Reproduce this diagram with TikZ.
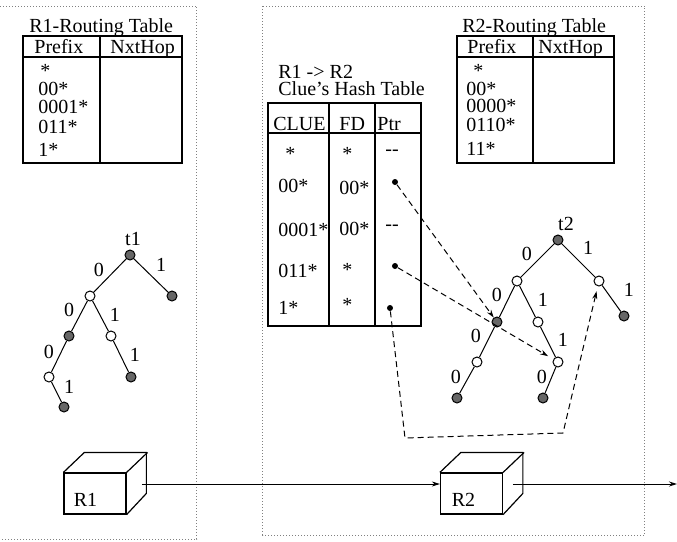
\documentclass[tikz,border=0pt]{standalone}
\usepackage{fontspec}
\setmainfont{Liberation Serif}
\usetikzlibrary{arrows.meta,calc}

\begin{document}
\begin{tikzpicture}[x=0.5pt, y=-0.5pt,
    every node/.style={font=\fontsize{10}{12}\selectfont, inner sep=0pt},
    frame/.style={gray, densely dotted, line width=0.5pt},
    tbl/.style={line width=0.6pt},
    entry/.style={anchor=base west},
    full/.style={circle, draw, fill=black!60, minimum size=5pt, line width=0.5pt},
    empty/.style={circle, draw, fill=white, minimum size=5pt, line width=0.5pt},
    edgeline/.style={line width=0.5pt},
    ptr/.style={circle, fill=black, minimum size=3pt},
    cube/.style={draw, minimum width=31pt, minimum height=20.5pt, line width=0.6pt},
    arr/.style={-{Stealth[length=4pt, width=2.5pt]}, line width=0.5pt},
    darr/.style={-{Stealth[length=4pt, width=2.5pt]}, dash pattern=on 3pt off 2pt, line width=0.5pt},
]
\useasboundingbox (0,0) rectangle (677,542);

% Router domains
\draw[frame] (0,6) -- (197,6) -- (197,539) -- (0,539);
\draw[frame] (263,6) rectangle (645,535);

% R1 routing table
\node[entry] (r1title) at (29,32) {R1-Routing Table};
\draw[tbl] (23,36) rectangle (182,163);
\draw[tbl] (23,57) -- (182,57);
\draw[tbl] (100,36) -- (100,163);
\node[entry] (r1pfx) at (34,53) {Prefix};
\node[entry] (r1hop) at (110,53) {NxtHop};
\node[entry] (r1e1) at (40,77) {*};
\node[entry] (r1e2) at (38,95) {00*};
\node[entry] (r1e3) at (38,113) {0001*};
\node[entry] (r1e4) at (38,133) {011*};
\node[entry] (r1e5) at (38,156) {1*};

% R2 routing table
\node[entry] (r2title) at (462,32) {R2-Routing Table};
\draw[tbl] (457,36) rectangle (614,163);
\draw[tbl] (457,57) -- (614,57);
\draw[tbl] (533,36) -- (533,163);
\node[entry] (r2pfx) at (467,53) {Prefix};
\node[entry] (r2hop) at (538,53) {NxtHop};
\node[entry] (r2e1) at (473,77) {*};
\node[entry] (r2e2) at (466,95) {00*};
\node[entry] (r2e3) at (466,112) {0000*};
\node[entry] (r2e4) at (466,131) {0110*};
\node[entry] (r2e5) at (466,155) {11*};

% Clue hash table
\node[entry] (hlink) at (278,78) {R1 -> R2};
\node[entry] (htitle) at (278,95) {Clue's Hash Table};
\draw[tbl] (268,103) rectangle (421,326);
\draw[tbl] (268,133) -- (421,133);
\draw[tbl] (329,103) -- (329,326);
\draw[tbl] (375,103) -- (375,326);
\node[entry] (hclue) at (273,130) {CLUE};
\node[entry] (hfd) at (339,130) {FD};
\node[entry] (hptr) at (377,130) {Ptr};
\node[entry] (c1) at (285,160) {*};
\node[entry] (f1) at (342,160) {*};
\node[entry] (p1) at (385,155) {-{}-};
\node[entry] (c2) at (278,192) {00*};
\node[entry] (f2) at (339,194) {00*};
\node[ptr] (ptra) at (395,182) {};
\node[entry] (c3) at (278,236) {0001*};
\node[entry] (f3) at (339,235) {00*};
\node[entry] (p3) at (385,230) {-{}-};
\node[entry] (c4) at (278,277) {011*};
\node[entry] (f4) at (342,276) {*};
\node[ptr] (ptrb) at (395,266) {};
\node[entry] (c5) at (278,314) {1*};
\node[entry] (f5) at (342,311) {*};
\node[ptr] (ptrc) at (390,308) {};

% Trie t1
\node[full] (t1r) at (130,255) {};
\node[empty] (t1a) at (90,296) {};
\node[full] (t1b) at (172,296) {};
\node[full] (t1c) at (69,336) {};
\node[empty] (t1d) at (111,336) {};
\node[empty] (t1e) at (49,377) {};
\node[full] (t1f) at (131,377) {};
\node[full] (t1g) at (64,407) {};
\draw[edgeline] (t1r) -- (t1a);
\draw[edgeline] (t1r) -- (t1b);
\draw[edgeline] (t1a) -- (t1c);
\draw[edgeline] (t1a) -- (t1d);
\draw[edgeline] (t1c) -- (t1e);
\draw[edgeline] (t1d) -- (t1f);
\draw[edgeline] (t1e) -- (t1g);
\node (t1name) at (133,239) {t1};
\node (t1l1) at (99,270) {0};
\node (t1l2) at (161,265) {1};
\node (t1l3) at (69,310) {0};
\node (t1l4) at (115,315) {1};
\node (t1l5) at (49,352) {0};
\node (t1l6) at (135,355) {1};
\node (t1l7) at (69,387) {1};

% Trie t2
\node[full] (t2r) at (558,240) {};
\node[empty] (t2a) at (517,281) {};
\node[empty] (t2b) at (599,281) {};
\node[full] (t2c) at (624,316) {};
\node[full] (t2d) at (497,322) {};
\node[empty] (t2e) at (538,322) {};
\node[empty] (t2f) at (477,362) {};
\node[empty] (t2g) at (558,362) {};
\node[full] (t2h) at (457,398) {};
\node[full] (t2i) at (543,398) {};
\draw[edgeline] (t2r) -- (t2a);
\draw[edgeline] (t2r) -- (t2b);
\draw[edgeline] (t2b) -- (t2c);
\draw[edgeline] (t2a) -- (t2d);
\draw[edgeline] (t2a) -- (t2e);
\draw[edgeline] (t2d) -- (t2f);
\draw[edgeline] (t2e) -- (t2g);
\draw[edgeline] (t2f) -- (t2h);
\draw[edgeline] (t2g) -- (t2i);
\node (t2name) at (566,224) {t2};
\node (t2l1) at (527,254) {0};
\node (t2l2) at (588,248) {1};
\node (t2l3) at (629,290) {1};
\node (t2l4) at (497,295) {0};
\node (t2l5) at (543,300) {1};
\node (t2l6) at (476,336) {0};
\node (t2l7) at (563,340) {1};
\node (t2l8) at (456,377) {0};
\node (t2l9) at (542,377) {0};

% Clue pointers
\coordinate (loopa) at (405,438);
\coordinate (loopb) at (563,433);
\draw[darr] (ptra) -- (t2d);
\draw[darr, shorten >=3pt] (ptrb) -- (t2g);
\draw[darr, shorten >=2.5pt] (ptrc) -- (loopa) -- (loopb) -- (t2b);

% Routers
\node[cube] (r1) at (95,493.5) {};
\draw[line width=0.6pt] (r1.north west) -- ++(21,-20) -- ++(62,0) -- ++(0,41) -- (r1.south east);
\draw[line width=0.6pt] (r1.north east) -- ++(21,-20);
\node (r1lab) at (85.5,499.5) {R1};
\node[cube] (r2) at (471.5,493.5) {};
\draw[line width=0.6pt] (r2.north west) -- ++(21,-20) -- ++(62,0) -- ++(0,41) -- (r2.south east);
\draw[line width=0.6pt] (r2.north east) -- ++(21,-20);
\node (r2lab) at (463.5,499.5) {R2};

% Links
\coordinate (r1out) at (142,484);
\coordinate (r2out) at (513,484);
\coordinate (exit) at (677,484);
\draw[arr] (r1out) -- (r1out -| r2.west);
\draw[arr] (r2out) -- (exit);
\end{tikzpicture}
\end{document}
